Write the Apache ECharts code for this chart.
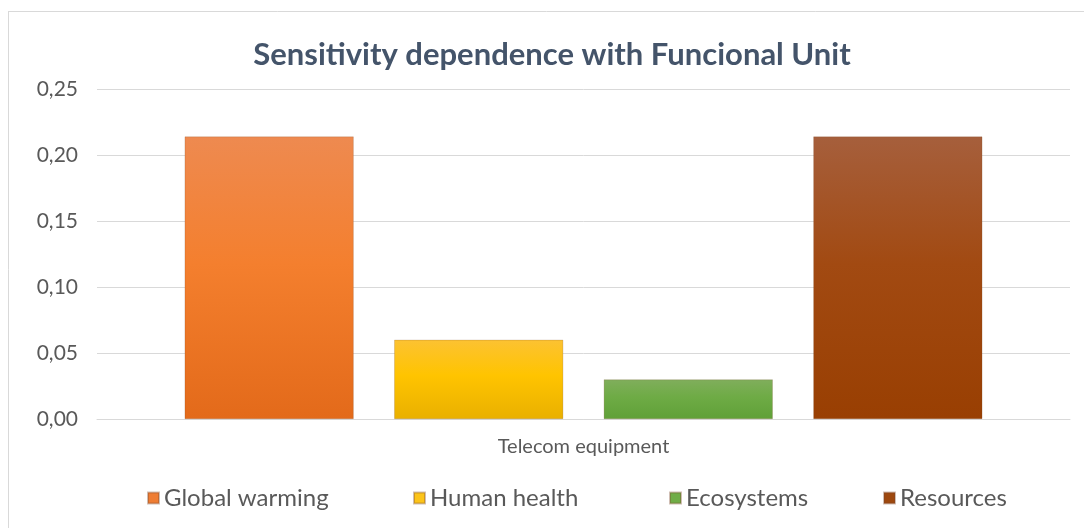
<!DOCTYPE html>
<html>
<head>
<meta charset="utf-8">
<script src="https://cdn.jsdelivr.net/npm/echarts@6/dist/echarts.min.js"></script>
<style>
html,body{margin:0;padding:0;background:#fff;}
#c{width:1084px;height:528px;}
</style>
</head>
<body>
<div id="c"></div>
<script>
const categories = ["Telecom equipment"];
const seriesNames = ["Global warming", "Human health", "Ecosystems", "Resources"];
const globalWarming = [0.214];
const humanHealth = [0.060];
const ecosystems = [0.030];
const resources = [0.214];
const seriesValues = [globalWarming, humanHealth, ecosystems, resources];
const titleText = "Sensitivity dependence with Funcional Unit";

const gradients = [
  ["#ee8a50", "#f47f2e", "#e36a1a"],
  ["#fcc232", "#ffc400", "#e9b000"],
  ["#80ae5c", "#6eab45", "#60a038"],
  ["#a65f3c", "#a24a12", "#993f02"]
];
const legendColors = ["#ef7d33", "#fcc419", "#70ad47", "#9e480e"];
const legendLefts = [147, 413, 669, 883];

function grad(c) {
  return new echarts.graphic.LinearGradient(0, 0, 0, 1, [
    {offset: 0, color: c[0]},
    {offset: 0.45, color: c[1]},
    {offset: 1, color: c[2]}
  ]);
}

const chart = echarts.init(document.getElementById('c'), null, {renderer: 'canvas'});
const series = seriesNames.map((n, i) => ({
  name: n,
  type: 'bar',
  data: seriesValues[i],
  barWidth: 169,
  barGap: '24%',
  itemStyle: {color: grad(gradients[i]), borderColor: 'rgba(120,70,40,0.35)', borderWidth: 0.6},
  emphasis: {disabled: true}
}));

const legends = seriesNames.map((n, i) => ({
  data: [{name: n, itemStyle: {color: legendColors[i]}}],
  left: legendLefts[i], top: 486, padding: 0,
  icon: 'rect', itemWidth: 11, itemHeight: 11,
  textStyle: {fontFamily: 'Lato', fontSize: 24, color: '#595959'}
}));

chart.setOption({
  animation: false,
  backgroundColor: '#ffffff',
  title: {
    text: titleText,
    left: 547, top: 34, textAlign: 'center',
    textStyle: {fontFamily: 'Lato', fontWeight: 'bold', fontSize: 31, color: '#44546a'}
  },
  graphic: [
    {type: 'line', shape: {x1: 9, y1: 11.5, x2: 1084, y2: 11.5}, style: {stroke: '#d9d9d9', lineWidth: 1}},
    {type: 'line', shape: {x1: 8.5, y1: 11, x2: 8.5, y2: 528}, style: {stroke: '#d9d9d9', lineWidth: 1}}
  ],
  legend: legends,
  grid: {left: 97, right: 14, top: 89, bottom: 109, containLabel: false},
  xAxis: {
    type: 'category', data: categories,
    axisLine: {show: true, lineStyle: {color: '#d9d9d9'}},
    axisTick: {show: false},
    axisLabel: {fontFamily: 'Lato', fontSize: 20, color: '#595959', margin: 18}
  },
  yAxis: {
    type: 'value', min: 0, max: 0.25, interval: 0.05,
    axisLine: {show: false}, axisTick: {show: false},
    splitLine: {lineStyle: {color: '#d9d9d9'}},
    axisLabel: {
      fontFamily: 'Lato', fontSize: 21, color: '#595959', margin: 19,
      formatter: v => v.toFixed(2).replace('.', ',')
    }
  },
  series: series
});
</script>
</body>
</html>
